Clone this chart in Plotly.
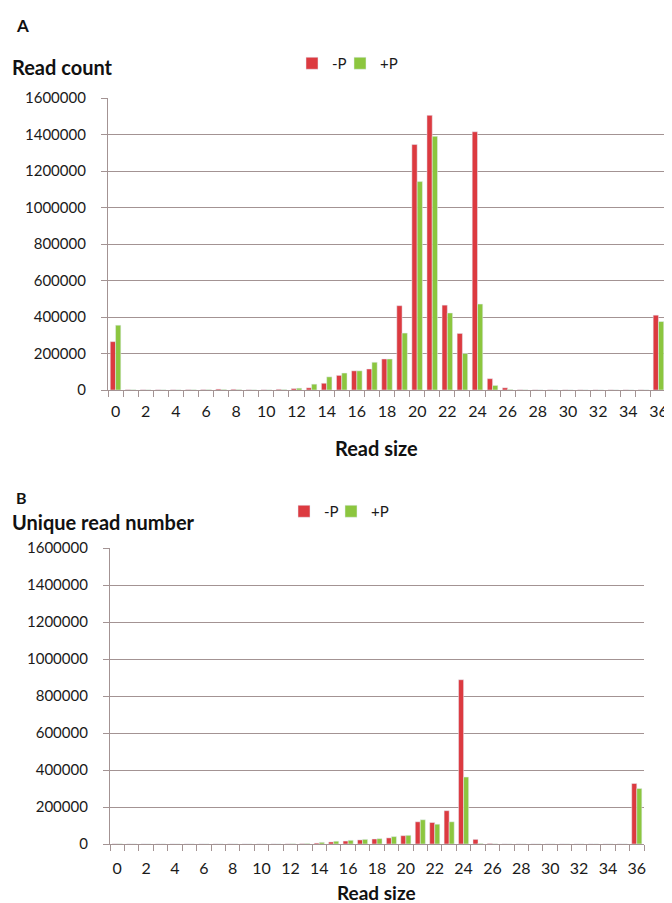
import plotly.graph_objects as go

read_size = list(range(37))

# Panel A: read count
count_minus_p = [265000, 2000, 1500, 1500, 1500, 2000, 2500, 5000, 4000, 1500, 1500, 4000, 8000,
                 12000, 37000, 80000, 105000, 115000, 170000, 462000, 1345000, 1505000, 465000,
                 310000, 1415000, 62000, 12000, 1500, 1000, 1000, 1000, 1000, 1000, 1000, 1000,
                 1000, 410000]
count_plus_p = [355000, 1500, 1000, 1000, 1000, 1500, 2000, 3000, 2500, 1000, 1000, 2500, 10000,
                32000, 72000, 93000, 105000, 152000, 170000, 312000, 1142000, 1390000, 422000,
                200000, 471000, 25000, 3000, 1000, 500, 500, 500, 500, 500, 500, 500,
                500, 375000]

# Panel B: unique read number
uniq_minus_p = [800, 300, 300, 300, 300, 300, 300, 500, 500, 300, 300, 500, 1000,
                2000, 5000, 11000, 16000, 22000, 27000, 33000, 45000, 120000, 116000,
                180000, 888000, 25000, 3000, 500, 300, 300, 300, 300, 300, 300, 300,
                300, 327000]
uniq_plus_p = [1000, 300, 300, 300, 300, 300, 300, 400, 400, 300, 300, 400, 1500,
               3000, 9000, 15000, 20000, 25000, 29000, 40000, 47000, 131000, 107000,
               120000, 362000, 3000, 1000, 300, 300, 300, 300, 300, 300, 300, 300,
               300, 300000]

y_ticks = [0, 200000, 400000, 600000, 800000, 1000000, 1200000, 1400000, 1600000]
x_ticks = list(range(0, 37, 2))

RED = "#dc3a40"
GREEN = "#8cc63f"
GRID = "#a39393"
FONT = "Lato, Open Sans, sans-serif"
OFF = 8               # browser default body margin
W, H = 672 - OFF, 903 - OFF

fig = go.Figure()
fig.add_trace(go.Bar(x=read_size, y=count_minus_p, name="-P", marker_color=RED,
                     xaxis="x", yaxis="y", legend="legend"))
fig.add_trace(go.Bar(x=read_size, y=count_plus_p, name="+P", marker_color=GREEN,
                     xaxis="x", yaxis="y", legend="legend2"))
fig.add_trace(go.Bar(x=read_size, y=uniq_minus_p, name="-P", marker_color=RED,
                     xaxis="x2", yaxis="y2", legend="legend3"))
fig.add_trace(go.Bar(x=read_size, y=uniq_plus_p, name="+P", marker_color=GREEN,
                     xaxis="x2", yaxis="y2", legend="legend4"))

def xaxis(domain, anchor, standoff):
    return dict(domain=domain, anchor=anchor, range=[-0.5, 36.5],
                tickmode="array", tickvals=x_ticks, ticktext=[str(v) for v in x_ticks],
                ticks="", showgrid=False, zeroline=False,
                showline=True, linecolor=GRID, linewidth=1.2,
                ticklabelstandoff=standoff,
                tickfont=dict(family=FONT, size=16, color="#1a1a1a"),
                minor=dict(tickmode="linear", tick0=0.5, dtick=1, ticks="outside",
                           ticklen=6, tickcolor=GRID, tickwidth=1.2, showgrid=False),
                fixedrange=True, automargin=False)

def yaxis(domain, anchor):
    return dict(domain=domain, anchor=anchor, range=[0, 1600000],
                tickmode="array", tickvals=y_ticks, ticktext=[str(v) for v in y_ticks],
                ticks="outside", ticklen=6, tickcolor=GRID, tickwidth=1.2,
                showgrid=True, gridcolor=GRID, gridwidth=1.2, zeroline=False,
                showline=True, linecolor=GRID, linewidth=1.2,
                ticklabelstandoff=12,
                tickfont=dict(family=FONT, size=15, color="#1a1a1a"),
                fixedrange=True, automargin=False)

def px_x(p):
    return (p - OFF) / W

def px_y(p):
    return 1 - (p - OFF) / H

def legend_at(x, y):
    return dict(orientation="h", x=px_x(x), y=px_y(y), xanchor="left", yanchor="top",
                font=dict(family=FONT, size=15, color="#1a1a1a"), bgcolor="rgba(0,0,0,0)",
                itemwidth=30)

fig.update_layout(
    width=W, height=H,
    margin=dict(l=0, r=0, t=0, b=0, pad=0, autoexpand=False),
    paper_bgcolor="white", plot_bgcolor="white",
    barmode="group", bargap=0.3, bargroupgap=0,
    xaxis=xaxis([px_x(108), px_x(666)], "y", 7),
    yaxis=yaxis([px_y(390), px_y(98)], "x"),
    xaxis2=xaxis([px_x(110), px_x(644)], "y2", 10),
    yaxis2=yaxis([px_y(844), px_y(548)], "x2"),
    legend=legend_at(292, 47),
    legend2=legend_at(340, 47),
    legend3=legend_at(284, 495),
    legend4=legend_at(331, 495),
    showlegend=True,
)

def label(text, x, y, size, xanchor="left"):
    fig.add_annotation(text=text, x=px_x(x), y=px_y(y), xref="paper", yref="paper",
                       xanchor=xanchor, yanchor="middle", showarrow=False,
                       font=dict(family=FONT, size=size, color="#111"))

label("<b>A</b>", 14, 25, 17)
label("<b>Read count</b>", 10, 67, 20)
label("<b>Read size</b>", 376, 448, 20, xanchor="center")
label("<b>B</b>", 14, 497, 16)
label("<b>Unique read number</b>", 10, 522, 20)
label("<b>Read size</b>", 376, 892, 19, xanchor="center")

fig.write_html("out.html")
